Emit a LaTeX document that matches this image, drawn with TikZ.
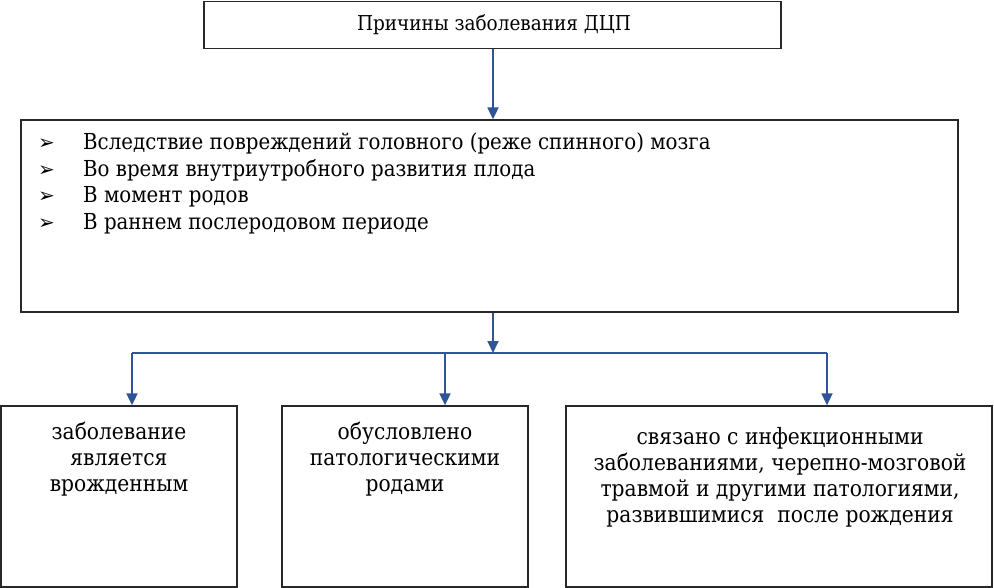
\documentclass[tikz,border=0pt]{standalone}
\usepackage{fontspec}
\IfFontExistsTF{DejaVu Serif Condensed}
  {\newfontfamily\serf{DejaVu Serif Condensed}}
  {\newfontfamily\serf{DejaVu Serif}}
\newfontfamily\dejavu{DejaVu Sans}
\usetikzlibrary{arrows.meta}
\definecolor{arrowblue}{RGB}{47,85,151}
\definecolor{boxline}{RGB}{40,40,40}
\newcommand{\bul}{\makebox[45pt][l]{\dejavu\fontsize{20}{20}\selectfont ➢}}
\begin{document}
\begin{tikzpicture}[x=1pt,y=-1pt,
  box/.style={draw=boxline, line width=1.3pt, inner sep=0pt, rectangle},
  conn/.style={draw=arrowblue, line width=1.8pt},
  arr/.style={conn, -{Triangle[width=11pt,length=12pt]}},
  ttlfont/.style={font=\serf\fontsize{20.5}{26}\selectfont, inner sep=0pt},
  main/.style={font=\serf\fontsize{22}{26}\selectfont, inner sep=0pt},
  low/.style={font=\serf\fontsize{22.5}{26}\selectfont, inner sep=0pt, align=center, anchor=north}]
\useasboundingbox (0,0) rectangle (994,588);
% boxes
\node[box, minimum width=577pt, minimum height=47pt] (top) at (492.5,25) {};
\node[box, minimum width=937pt, minimum height=192pt] (mainbox) at (489.5,216) {};
\node[box, minimum width=236pt, minimum height=181pt] (b1) at (119,496.5) {};
\node[box, minimum width=246pt, minimum height=181pt] (b2) at (405,496.5) {};
\node[box, minimum width=426pt, minimum height=181pt] (b3) at (779,496.5) {};
% texts
\node[ttlfont, anchor=base] (ttl) at (494,31) {Причины заболевания ДЦП};
\node[main, anchor=base west] (l1) at (38,150) {\bul Вследствие повреждений головного (реже спинного) мозга};
\node[main, anchor=base west] (l2) at (38,176.5) {\bul Во время внутриутробного развития плода};
\node[main, anchor=base west] (l3) at (38,203) {\bul В момент родов};
\node[main, anchor=base west] (l4) at (38,229.5) {\bul В раннем послеродовом периоде};
\node[low] (t1) at (119,421) {\strut заболевание\\является\\врожденным};
\node[low] (t2) at (405,421) {\strut обусловлено\\патологическими\\родами};
\node[low] (t3) at (780,426) {\strut связано с инфекционными\\заболеваниями, черепно-мозговой\\травмой и другими патологиями,\\развившимися\ \ после рождения};
% connectors
\coordinate (j) at (493,353);
\coordinate (jl) at (132,353);
\coordinate (jm) at (445,353);
\coordinate (jr) at (827,353);
\draw[arr] (top.south -| j) -- (mainbox.north -| j);
\draw[arr] (mainbox.south -| j) -- (j);
\draw[conn] (jl) -- (jr);
\draw[arr] (jl) -- (b1.north -| jl);
\draw[arr] (jm) -- (b2.north -| jm);
\draw[arr] (jr) -- (b3.north -| jr);
\end{tikzpicture}
\end{document}
